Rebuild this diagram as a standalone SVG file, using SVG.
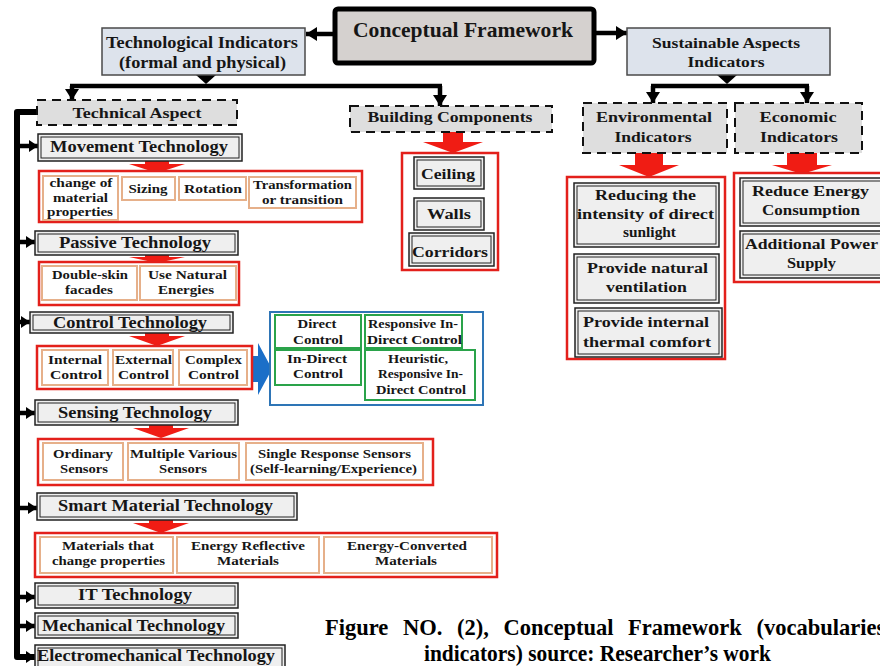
<svg xmlns="http://www.w3.org/2000/svg" width="880" height="666" viewBox="0 0 880 666">
<style>
.t{font-family:"Liberation Serif","Times New Roman",serif;font-weight:bold;fill:#161616;text-anchor:middle}
.f21{font-size:21px}.f16{font-size:16px}.f15{font-size:15px}.f12{font-size:12.5px}
.cap{font-family:"Liberation Serif","Times New Roman",serif;font-weight:bold;font-size:22.5px;fill:#000}
.dash{fill:#dedede;stroke:#111;stroke-width:2;stroke-dasharray:9 6}
.dbo{fill:#efefef;stroke:#222;stroke-width:1.5}
.dbi{fill:none;stroke:#222;stroke-width:1}
.red{fill:#fff;stroke:#e3201b;stroke-width:2.5}
.tan{fill:#fff;stroke:#e6b08a;stroke-width:2}
.grn{fill:#fff;stroke:#2aa34a;stroke-width:2}
.ind{fill:#dde3ec;stroke:#4a4a4a;stroke-width:1.5}
.ra{fill:#f01c14}
.k{fill:none;stroke:#000;stroke-width:4.5}
.tr{fill:none;stroke:#000;stroke-width:6;stroke-linejoin:round}
</style>
<defs>
<marker id="ah" markerUnits="userSpaceOnUse" markerWidth="12" markerHeight="14" refX="11" refY="7" orient="auto">
<path d="M0,0 L11,7 L0,14 z" fill="#000"/>
</marker>
<marker id="ah2" markerUnits="userSpaceOnUse" markerWidth="10" markerHeight="12" refX="9" refY="6" orient="auto">
<path d="M0,0 L9,6 L0,12 z" fill="#000"/>
</marker>
</defs>

<g id="connectors">
<line class="k" x1="335" y1="34" x2="306" y2="34" marker-end="url(#ah)"/>
<line class="k" x1="594" y1="33" x2="627" y2="33" marker-end="url(#ah)"/>
<polygon points="196,75 216,75 206,84" fill="#000"/>
<line class="k" x1="70" y1="86" x2="442" y2="86"/>
<line class="k" x1="72" y1="86" x2="72" y2="100" marker-end="url(#ah)"/>
<line class="k" x1="440" y1="86" x2="440" y2="106" marker-end="url(#ah)"/>
<polygon points="717,75 737,75 727,84" fill="#000"/>
<line class="k" x1="651" y1="86" x2="809" y2="86"/>
<line class="k" x1="653" y1="86" x2="653" y2="103" marker-end="url(#ah)"/>
<line class="k" x1="807" y1="86" x2="807" y2="103" marker-end="url(#ah)"/>
<path class="tr" d="M37,112 H17 V657 H35" marker-end="url(#ah2)"/>
<line class="k" x1="17" y1="146" x2="38" y2="146" marker-end="url(#ah2)"/>
<line class="k" x1="17" y1="242" x2="35" y2="242" marker-end="url(#ah2)"/>
<line class="k" x1="17" y1="322" x2="30" y2="322" marker-end="url(#ah2)"/>
<line class="k" x1="17" y1="413" x2="35" y2="413" marker-end="url(#ah2)"/>
<line class="k" x1="17" y1="508" x2="37" y2="508" marker-end="url(#ah2)"/>
<line class="k" x1="17" y1="597" x2="35" y2="597" marker-end="url(#ah2)"/>
<line class="k" x1="17" y1="626" x2="35" y2="626" marker-end="url(#ah2)"/>
<polygon class="ra" points="145,161 169,161 169,164 185,164 157,173 129,164 145,164"/>
<polygon class="ra" points="145,255 169,255 169,257 185,257 157,263 129,257 145,257"/>
<polygon class="ra" points="145,333 169,333 169,336 185,336 157,346 129,336 145,336"/>
<polygon class="ra" points="149,425 173,425 173,428 189,428 161,438 133,428 149,428"/>
<polygon class="ra" points="149,520 173,520 173,523 189,523 161,533 133,523 149,523"/>
<polygon class="ra" points="443,132 463,132 463,142 483,142 453,153 423,142 443,142"/>
<polygon class="ra" points="635,153 663,153 663,165 679,165 649,177 619,165 635,165"/>
<polygon class="ra" points="787,153 817,153 817,165 832,165 802,174 772,165 787,165"/>
<polygon points="250,356 258,356 258,343 272,369 258,395 258,382 250,382" fill="#1b6fc8"/>
</g>

<g id="conceptual-framework">
<rect x="335" y="9" width="259" height="54" rx="3" fill="#d5d1cf" stroke="#000" stroke-width="5"/>
<text class="t f21" x="463" y="37" textLength="220" lengthAdjust="spacingAndGlyphs">Conceptual Framework</text>
</g>

<g id="technological-indicators">
<rect class="ind" x="102" y="28" width="203" height="47"/>
<text class="t f16" x="202" y="48" textLength="192" lengthAdjust="spacingAndGlyphs">Technological Indicators</text>
<text class="t f16" x="202.5" y="68" textLength="167" lengthAdjust="spacingAndGlyphs">(formal and physical)</text>
</g>

<g id="sustainable-indicators">
<rect class="ind" x="627" y="28" width="203" height="47"/>
<text class="t f15" x="726" y="48" textLength="148" lengthAdjust="spacingAndGlyphs">Sustainable Aspects</text>
<text class="t f15" x="726" y="67" textLength="77" lengthAdjust="spacingAndGlyphs">Indicators</text>
</g>

<g id="technical-aspect">
<rect class="dash" x="37" y="100" width="200" height="25"/>
<text class="t f15" x="137" y="118" textLength="129" lengthAdjust="spacingAndGlyphs">Technical Aspect</text>
</g>

<g id="building-components">
<rect class="dash" x="350" y="106" width="202" height="26"/>
<text class="t f15" x="450" y="122" textLength="165" lengthAdjust="spacingAndGlyphs">Building Components</text>
</g>

<g id="environmental-indicators">
<rect class="dash" x="583" y="103" width="144" height="50"/>
<text class="t f15" x="654" y="122" textLength="116" lengthAdjust="spacingAndGlyphs">Environmental</text>
<text class="t f15" x="653" y="142" textLength="77" lengthAdjust="spacingAndGlyphs">Indicators</text>
</g>

<g id="economic-indicators">
<rect class="dash" x="735" y="103" width="127" height="50"/>
<text class="t f15" x="798" y="122" textLength="77" lengthAdjust="spacingAndGlyphs">Economic</text>
<text class="t f15" x="799" y="142" textLength="78" lengthAdjust="spacingAndGlyphs">Indicators</text>
</g>

<g id="movement-technology">
<rect class="dbo" x="38" y="134" width="204" height="27"/><rect class="dbi" x="41" y="137" width="198" height="21"/>
<text class="t f16" x="139" y="152" textLength="178" lengthAdjust="spacingAndGlyphs">Movement Technology</text>
</g>
<g id="movement-details">
<rect class="red" x="39" y="171" width="323" height="51"/>
<rect class="tan" x="43" y="176" width="75" height="44"/>
<text class="t f12" x="81" y="187" textLength="63" lengthAdjust="spacingAndGlyphs">change of</text>
<text class="t f12" x="80.5" y="202" textLength="55" lengthAdjust="spacingAndGlyphs">material</text>
<text class="t f12" x="80" y="216" textLength="66" lengthAdjust="spacingAndGlyphs">properties</text>
<rect class="tan" x="122" y="177" width="53" height="23"/>
<text class="t f12" x="148" y="193" textLength="39" lengthAdjust="spacingAndGlyphs">Sizing</text>
<rect class="tan" x="179" y="177" width="67" height="23"/>
<text class="t f12" x="213" y="193" textLength="58" lengthAdjust="spacingAndGlyphs">Rotation</text>
<rect class="tan" x="249" y="177" width="107" height="31"/>
<text class="t f12" x="302.5" y="189" textLength="99" lengthAdjust="spacingAndGlyphs">Transformation</text>
<text class="t f12" x="302.5" y="204" textLength="81" lengthAdjust="spacingAndGlyphs">or transition</text>
</g>

<g id="passive-technology">
<rect class="dbo" x="35" y="231" width="203" height="24"/><rect class="dbi" x="38" y="234" width="197" height="18"/>
<text class="t f16" x="135" y="248" textLength="152" lengthAdjust="spacingAndGlyphs">Passive Technology</text>
</g>
<g id="passive-details">
<rect class="red" x="39" y="262" width="200" height="43"/>
<rect class="tan" x="42" y="266" width="95" height="34"/>
<text class="t f12" x="90" y="279" textLength="76" lengthAdjust="spacingAndGlyphs">Double-skin</text>
<text class="t f12" x="89" y="294" textLength="48" lengthAdjust="spacingAndGlyphs">facades</text>
<rect class="tan" x="140" y="266" width="96" height="34"/>
<text class="t f12" x="187.5" y="279" textLength="79" lengthAdjust="spacingAndGlyphs">Use Natural</text>
<text class="t f12" x="186" y="294" textLength="56" lengthAdjust="spacingAndGlyphs">Energies</text>
</g>

<g id="control-technology">
<rect class="dbo" x="30" y="312" width="203" height="21"/><rect class="dbi" x="33" y="315" width="197" height="15"/>
<text class="t f16" x="130" y="328" textLength="154" lengthAdjust="spacingAndGlyphs">Control Technology</text>
</g>
<g id="control-details">
<rect class="red" x="37" y="346" width="215" height="43"/>
<rect class="tan" x="42" y="350" width="66" height="35"/>
<text class="t f12" x="75" y="364" textLength="54" lengthAdjust="spacingAndGlyphs">Internal</text>
<text class="t f12" x="76" y="379" textLength="52" lengthAdjust="spacingAndGlyphs">Control</text>
<rect class="tan" x="113" y="350" width="60" height="35"/>
<text class="t f12" x="143.5" y="364" textLength="57" lengthAdjust="spacingAndGlyphs">External</text>
<text class="t f12" x="143.5" y="379" textLength="51" lengthAdjust="spacingAndGlyphs">Control</text>
<rect class="tan" x="179" y="350" width="68" height="35"/>
<text class="t f12" x="213.5" y="364" textLength="57" lengthAdjust="spacingAndGlyphs">Complex</text>
<text class="t f12" x="213.5" y="379" textLength="51" lengthAdjust="spacingAndGlyphs">Control</text>
</g>

<g id="control-types">
<rect x="270" y="312" width="213" height="93" fill="#fff" stroke="#2e75b6" stroke-width="2"/>
<rect class="grn" x="275" y="315" width="86" height="33"/>
<text class="t f12" x="317" y="328" textLength="39" lengthAdjust="spacingAndGlyphs">Direct</text>
<text class="t f12" x="318" y="344" textLength="50" lengthAdjust="spacingAndGlyphs">Control</text>
<rect class="grn" x="365" y="315" width="97" height="33"/>
<text class="t f12" x="413" y="328" textLength="90" lengthAdjust="spacingAndGlyphs">Responsive In-</text>
<text class="t f12" x="414.5" y="344" textLength="95" lengthAdjust="spacingAndGlyphs">Direct Control</text>
<rect class="grn" x="275" y="350" width="86" height="35"/>
<text class="t f12" x="317" y="363" textLength="60" lengthAdjust="spacingAndGlyphs">In-Direct</text>
<text class="t f12" x="318" y="378" textLength="50" lengthAdjust="spacingAndGlyphs">Control</text>
<rect class="grn" x="365" y="350" width="110" height="50"/>
<text class="t f12" x="418" y="363" textLength="60" lengthAdjust="spacingAndGlyphs">Heuristic,</text>
<text class="t f12" x="420.5" y="378" textLength="85" lengthAdjust="spacingAndGlyphs">Responsive In-</text>
<text class="t f12" x="421" y="394" textLength="90" lengthAdjust="spacingAndGlyphs">Direct Control</text>
</g>

<g id="sensing-technology">
<rect class="dbo" x="35" y="400" width="203" height="25"/><rect class="dbi" x="38" y="403" width="197" height="19"/>
<text class="t f16" x="135" y="418" textLength="154" lengthAdjust="spacingAndGlyphs">Sensing Technology</text>
</g>
<g id="sensing-details">
<rect class="red" x="38" y="439" width="395" height="46"/>
<rect class="tan" x="43" y="443" width="80" height="37"/>
<text class="t f12" x="83" y="458" textLength="60" lengthAdjust="spacingAndGlyphs">Ordinary</text>
<text class="t f12" x="84" y="473" textLength="48" lengthAdjust="spacingAndGlyphs">Sensors</text>
<rect class="tan" x="128" y="443" width="111" height="37"/>
<text class="t f12" x="183.5" y="458" textLength="107" lengthAdjust="spacingAndGlyphs">Multiple Various</text>
<text class="t f12" x="183" y="473" textLength="48" lengthAdjust="spacingAndGlyphs">Sensors</text>
<rect class="tan" x="246" y="443" width="177" height="37"/>
<text class="t f12" x="334.5" y="458" textLength="153" lengthAdjust="spacingAndGlyphs">Single Response Sensors</text>
<text class="t f12" x="333.5" y="473" textLength="167" lengthAdjust="spacingAndGlyphs">(Self-learning/Experience)</text>
</g>

<g id="smart-material-technology">
<rect class="dbo" x="37" y="493" width="260" height="27"/><rect class="dbi" x="40" y="496" width="254" height="21"/>
<text class="t f16" x="165.5" y="511" textLength="215" lengthAdjust="spacingAndGlyphs">Smart Material Technology</text>
</g>
<g id="smart-material-details">
<rect class="red" x="35" y="533" width="462" height="44"/>
<rect class="tan" x="40" y="537" width="133" height="36"/>
<text class="t f12" x="108" y="550" textLength="92" lengthAdjust="spacingAndGlyphs">Materials that</text>
<text class="t f12" x="108.5" y="565" textLength="113" lengthAdjust="spacingAndGlyphs">change properties</text>
<rect class="tan" x="177" y="537" width="142" height="36"/>
<text class="t f12" x="248" y="550" textLength="114" lengthAdjust="spacingAndGlyphs">Energy Reflective</text>
<text class="t f12" x="248" y="565" textLength="62" lengthAdjust="spacingAndGlyphs">Materials</text>
<rect class="tan" x="324" y="537" width="168" height="36"/>
<text class="t f12" x="407" y="550" textLength="120" lengthAdjust="spacingAndGlyphs">Energy-Converted</text>
<text class="t f12" x="406" y="565" textLength="62" lengthAdjust="spacingAndGlyphs">Materials</text>
</g>

<g id="it-technology">
<rect class="dbo" x="35" y="583" width="203" height="25"/><rect class="dbi" x="38" y="586" width="197" height="19"/>
<text class="t f16" x="135" y="600" textLength="114" lengthAdjust="spacingAndGlyphs">IT Technology</text>
</g>
<g id="mechanical-technology">
<rect class="dbo" x="35" y="613" width="203" height="25"/><rect class="dbi" x="38" y="616" width="197" height="19"/>
<text class="t f16" x="133.5" y="631" textLength="183" lengthAdjust="spacingAndGlyphs">Mechanical Technology</text>
</g>
<g id="electromechanical-technology">
<rect class="dbo" x="35" y="645" width="250" height="30"/><rect class="dbi" x="38" y="648" width="244" height="24"/>
<text class="t f16" x="156" y="661" textLength="238" lengthAdjust="spacingAndGlyphs">Electromechanical Technology</text>
</g>

<g id="building-items">
<rect class="red" x="402" y="153" width="96" height="117"/>
<rect class="dbo" x="414" y="157" width="70" height="32"/><rect class="dbi" x="417" y="160" width="64" height="26"/>
<text class="t f15" x="448" y="179" textLength="54" lengthAdjust="spacingAndGlyphs">Ceiling</text>
<rect class="dbo" x="414" y="198" width="70" height="32"/><rect class="dbi" x="417" y="201" width="64" height="26"/>
<text class="t f15" x="449" y="219" textLength="44" lengthAdjust="spacingAndGlyphs">Walls</text>
<rect class="dbo" x="409" y="233" width="85" height="33"/><rect class="dbi" x="412" y="236" width="79" height="27"/>
<text class="t f15" x="450" y="257" textLength="76" lengthAdjust="spacingAndGlyphs">Corridors</text>
</g>

<g id="environmental-items">
<rect class="red" x="567" y="177" width="158" height="182"/>
<rect class="dbo" x="574" y="183" width="145" height="64"/><rect class="dbi" x="577" y="186" width="139" height="58"/>
<text class="t f15" x="645.5" y="200" textLength="101" lengthAdjust="spacingAndGlyphs">Reducing the</text>
<text class="t f15" x="645.5" y="219" textLength="137" lengthAdjust="spacingAndGlyphs">intensity of direct</text>
<text class="t f15" x="649.5" y="237" textLength="53" lengthAdjust="spacingAndGlyphs">sunlight</text>
<rect class="dbo" x="574" y="254" width="145" height="49"/><rect class="dbi" x="577" y="257" width="139" height="43"/>
<text class="t f15" x="647.5" y="273" textLength="121" lengthAdjust="spacingAndGlyphs">Provide natural</text>
<text class="t f15" x="646.5" y="292" textLength="81" lengthAdjust="spacingAndGlyphs">ventilation</text>
<rect class="dbo" x="575" y="308" width="147" height="49"/><rect class="dbi" x="578" y="311" width="141" height="43"/>
<text class="t f15" x="646" y="327" textLength="126" lengthAdjust="spacingAndGlyphs">Provide internal</text>
<text class="t f15" x="647" y="347" textLength="128" lengthAdjust="spacingAndGlyphs">thermal comfort</text>
</g>

<g id="economic-items">
<rect class="red" x="734" y="173" width="152" height="109"/>
<rect class="dbo" x="740" y="178" width="145" height="48"/><rect class="dbi" x="743" y="181" width="139" height="42"/>
<text class="t f15" x="810.5" y="196" textLength="117" lengthAdjust="spacingAndGlyphs">Reduce Energy</text>
<text class="t f15" x="811" y="215" textLength="98" lengthAdjust="spacingAndGlyphs">Consumption</text>
<rect class="dbo" x="740" y="231" width="145" height="47"/><rect class="dbi" x="743" y="234" width="139" height="41"/>
<text class="t f15" x="811.5" y="249" textLength="133" lengthAdjust="spacingAndGlyphs">Additional Power</text>
<text class="t f15" x="811.5" y="268" textLength="49" lengthAdjust="spacingAndGlyphs">Supply</text>
</g>

<g id="caption">
<text class="cap" x="325" y="635" word-spacing="9">Figure NO. (2), Conceptual Framework (vocabularies</text>
<text class="cap" x="424" y="661" textLength="347" lengthAdjust="spacingAndGlyphs">indicators) source: Researcher’s work</text>
</g>
</svg>
